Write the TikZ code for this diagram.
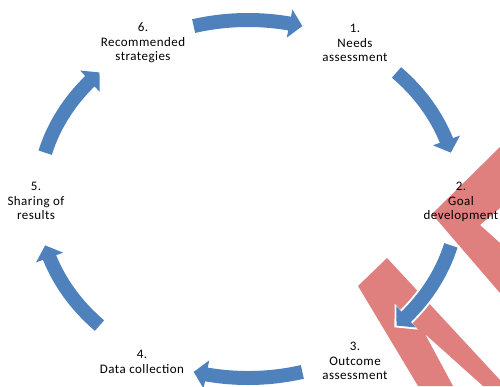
\documentclass[tikz,border=0pt]{standalone}
\usepackage{fontspec}
\setmainfont[LetterSpace=3.5]{Carlito}
\usetikzlibrary{arrows.meta,bending}

\definecolor{arrowblue}{RGB}{79,129,189}
\definecolor{salmon}{RGB}{223,127,126}

\tikzset{
  cyc/.style={draw=arrowblue, line width=14pt, -{Triangle[width=28pt,length=13pt]}},
  cycedge/.style={draw=white, line width=18pt, -{Triangle[width=34pt,length=16pt]}},
  lbl/.style={align=center, inner sep=0pt, font=\fontsize{13}{14.5}\selectfont}
}

\begin{document}
\begin{tikzpicture}[x=1pt,y=-1pt]
        \useasboundingbox (0,0) rectangle (500,386);
        \coordinate (c) at (248,199);

        % red shapes behind
        \fill [salmon] (500,147) -- (432,214) -- (500,293) -- (500,243) -- (480,225) -- (500,208) -- cycle;
        \fill [salmon] (387,258) -- (500,380) -- (500,386) -- (483,386) -- (425,334) -- (453,386) -- (418,386) -- (358,286) -- cycle;

        % arrow tails
        \path (c) ++(255:210 and 179) coordinate (a61);
        \path (c) ++(315:210 and 179) coordinate (a12);
        \path (c) ++(15:210 and 179) coordinate (a23);
        \path (c) ++(14.3:210 and 179) coordinate (a23w);
        \path (c) ++(75:210 and 179) coordinate (a34);
        \path (c) ++(135:210 and 179) coordinate (a45);
        \path (c) ++(195:210 and 179) coordinate (a56);

        \draw [cyc] (a61) arc [start angle=255, end angle=285, x radius=210, y radius=179];
        \draw [cyc] (a12) arc [start angle=315, end angle=345, x radius=210, y radius=179];
        \draw [cycedge] (a23w) arc [start angle=14.3, end angle=45.8, x radius=210, y radius=179];
        \draw [cyc] (a23) arc [start angle=15, end angle=45, x radius=210, y radius=179];
        \draw [cyc] (a34) arc [start angle=75, end angle=105, x radius=210, y radius=179];
        \draw [cyc] (a45) arc [start angle=135, end angle=165, x radius=210, y radius=179];
        \draw [cyc] (a56) arc [start angle=195, end angle=225, x radius=210, y radius=179];

        % labels
        \node [lbl] (need) at (355,43) {1.\\Needs\\assessment};
        \node [lbl] (goal) at (461,202) {2.\\Goal\\development};
        \node [lbl] (outcome) at (355,361) {3.\\Outcome\\assessment};
        \node [lbl] (data) at (142,362) {4.\\Data collection};
        \node [lbl] (share) at (36,201) {5.\\Sharing of\\results};
        \node [lbl] (strat) at (143,43) {6.\\Recommended\\strategies};
    \end{tikzpicture}
\end{document}
